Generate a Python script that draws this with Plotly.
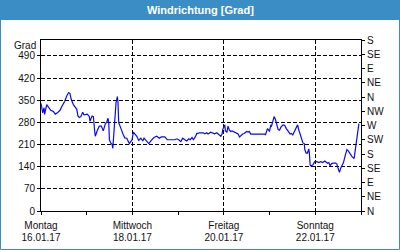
import pandas as pd
import plotly.graph_objects as go

title_text = "Windrichtung [Grad]"
y_title = "Grad"
start = "2017-01-16"

hours = [0, 0.9, 1.6, 1.9, 3.0, 3.7, 5.1, 6.5, 7.5, 8.6, 10.0, 11.0, 12.4, 13.5, 14.5, 15.2, 15.9,
         17.0, 18.0, 18.8, 19.4, 20.1, 20.9, 21.9, 22.6, 23.6, 24.3, 25.4, 25.7, 26.8, 27.5, 28.2,
         28.5, 29.6, 30.6, 31.7, 32.7, 33.8, 34.5, 34.8, 35.2, 35.6, 35.9, 36.6, 37.3, 37.7, 38.0,
         38.7, 39.4, 40.1, 40.4, 40.8, 41.5, 42.2, 43.2, 44.0, 45.0, 45.7, 46.4, 47.1, 47.8, 48.5,
         49.2, 50.3, 51.3, 52.4, 53.4, 54.1, 55.1, 56.6, 57.9, 59.3, 60.8, 62.1, 63.2, 65.0, 66.3,
         67.8, 68.8, 70.2, 71.3, 72.3, 73.4, 74.4, 75.5, 76.5, 77.6, 78.3, 79.3, 80.0, 81.0, 81.8,
         82.5, 83.1, 85.1, 86.0, 87.0, 87.7, 89.1, 90.2, 91.2, 92.3, 93.6, 94.4, 95.1, 95.4, 96.5,
         96.8, 97.6, 98.2, 98.9, 99.6, 100.3, 101.4, 102.1, 102.8, 103.5, 104.2, 105.2, 105.9,
         106.6, 107.3, 108.0, 108.7, 109.4, 110.1, 112.9, 116.1, 117.5, 117.8, 118.5, 118.9, 119.6,
         119.9, 120.6, 121.0, 121.7, 122.4, 123.1, 123.8, 124.5, 125.2, 125.9, 127.0, 128.0, 128.7,
         129.4, 130.1, 130.8, 131.5, 132.2, 132.9, 133.6, 134.3, 134.7, 135.4, 136.0, 136.7, 137.5,
         138.2, 138.5, 139.2, 139.9, 140.6, 140.9, 141.3, 141.6, 142.7, 143.7, 144.8, 145.8, 146.9,
         147.9, 149.0, 149.7, 150.4, 151.1, 151.8, 152.5, 153.2, 154.6, 155.3, 156.0, 156.7, 157.4,
         158.1, 158.8, 159.8, 160.6, 161.3, 162.0, 162.7, 163.4, 164.4, 165.1, 165.9, 166.2, 166.5,
         166.9]
values = [340, 310, 326, 305, 336, 331, 318, 314, 306, 310, 318, 331, 346, 363, 374, 371, 352,
          336, 327, 321, 300, 295, 298, 312, 304, 304, 306, 298, 283, 300, 298, 251,
          236, 255, 268, 268, 253, 276, 280, 287, 293, 276, 225, 215, 211, 198, 225,
          289, 342, 361, 345, 279, 270, 257, 241, 231, 230, 220, 213, 219, 225, 249,
          245, 236, 223, 230, 221, 230, 223, 213, 223, 232, 236, 230, 234, 234, 225,
          225, 227, 225, 228, 225, 219, 230, 225, 221, 228, 225, 232, 225, 234, 245,
          245, 247, 247, 244, 247, 243, 249, 247, 244, 247, 240, 236, 244, 257, 272,
          253, 249, 268, 255, 251, 253, 249, 249, 245, 243, 234, 240, 243,
          245, 249, 251, 249, 251, 243, 243, 243, 243, 240, 253, 260, 255,
          251, 270, 268, 283, 298, 289, 268, 257, 255, 264, 272, 270, 261,
          253, 249, 243, 245, 240, 249, 257, 268, 272, 255, 243, 232, 215,
          213, 194, 183, 183, 196, 183, 145, 143, 145, 156, 156, 153, 156,
          153, 158, 153, 151, 153, 143, 149, 151, 151, 149, 134, 122, 136,
          145, 153, 177, 194, 190, 183, 175, 171, 166, 198, 230, 255, 262,
          276]

x_tick_dates = ["2017-01-16", "2017-01-18", "2017-01-20", "2017-01-22"]
x_day_labels = ["Montag", "Mittwoch", "Freitag", "Sonntag"]
x_date_labels = ["16.01.17", "18.01.17", "20.01.17", "22.01.17"]
x_range = ["2017-01-16", "2017-01-23"]

y_left_ticks = [0, 70, 140, 210, 280, 350, 420, 490]
y_right_ticks = [0, 45, 90, 135, 180, 225, 270, 315, 360, 405, 450, 495, 540]
y_right_labels = ["N", "NE", "E", "SE", "S", "SW", "W", "NW", "N", "NE", "E", "SE", "S"]
y_range = [0, 540]

times = pd.Timestamp(start) + pd.to_timedelta(hours, unit="h")

W, H = 400, 250
L, R, T, B = 41, 39, 40, 39
PW, PH = W - L - R, H - T - B

def px(x):
    return (x - L) / PW

def py(y):
    return (H - B - y) / PH

blue = "#3b8dc5"
font = "Liberation Sans"
txt = "#111111"

fig = go.Figure()
fig.add_trace(go.Scatter(x=times, y=values, mode="lines",
                         line=dict(color="#0a0aeb", width=1.2), showlegend=False))
fig.add_trace(go.Scatter(x=[times[0]], y=[None], yaxis="y2", showlegend=False,
                         hoverinfo="skip"))
fig.add_trace(go.Scatter(x=[times[0]], y=[None], xaxis="x2", showlegend=False,
                         hoverinfo="skip"))

fig.update_layout(
    width=W, height=H,
    margin=dict(l=L, r=R, t=T, b=B, pad=0, autoexpand=False),
    paper_bgcolor="white", plot_bgcolor="white",
    font=dict(family=font, size=10, color=txt),
    xaxis=dict(range=x_range, type="date", tickmode="array", tickvals=x_tick_dates,
               ticktext=x_day_labels, showline=True, linecolor="black", linewidth=1,
               mirror=True, ticks="outside", ticklen=3, tickcolor="black",
               ticklabelstandoff=2, automargin=False,
               showgrid=True, gridcolor="black", griddash="4px,2px", gridwidth=1,
               zeroline=False,
               minor=dict(dtick=86400000, tick0="2017-01-16", ticks="outside", ticklen=3,
                          tickcolor="black", showgrid=False)),
    xaxis2=dict(range=x_range, type="date", overlaying="x", side="bottom",
                tickmode="array", tickvals=x_tick_dates, ticktext=x_date_labels,
                showline=False, ticks="", showgrid=False, zeroline=False,
                ticklabelstandoff=19, automargin=False),
    yaxis=dict(range=y_range, tickmode="array", tickvals=y_left_ticks,
               showline=True, linecolor="black", linewidth=1, ticks="outside",
               ticklen=3, tickcolor="black", showgrid=True, gridcolor="black",
               griddash="4px,2px", gridwidth=1, zeroline=False, automargin=False),
    yaxis2=dict(range=y_range, overlaying="y", side="right", tickmode="array",
                tickvals=y_right_ticks, ticktext=y_right_labels, showline=True,
                linecolor="black", linewidth=1, ticks="outside", ticklen=3,
                tickcolor="black", showgrid=False, zeroline=False, automargin=False),
    shapes=[
        dict(type="rect", xref="paper", yref="paper", x0=px(0), x1=px(W), y0=py(20), y1=py(0),
             fillcolor=blue, line=dict(width=0), layer="below"),
        dict(type="rect", xref="paper", yref="paper", x0=px(0.5), x1=px(W - 0.5),
             y0=py(H - 0.5), y1=py(0.5), line=dict(color=blue, width=1),
             fillcolor="rgba(0,0,0,0)", layer="below"),
    ],
    annotations=[
        dict(text="<b>" + title_text + "</b>", xref="paper", yref="paper", x=px(200), y=py(10.5),
             xanchor="center", yanchor="middle", showarrow=False,
             font=dict(family=font, size=11, color="white")),
        dict(text=y_title, xref="paper", yref="paper", x=px(38), y=py(45),
             xanchor="right", yanchor="middle", showarrow=False,
             font=dict(family=font, size=10, color=txt)),
    ],
)

fig.write_html("out.html")
